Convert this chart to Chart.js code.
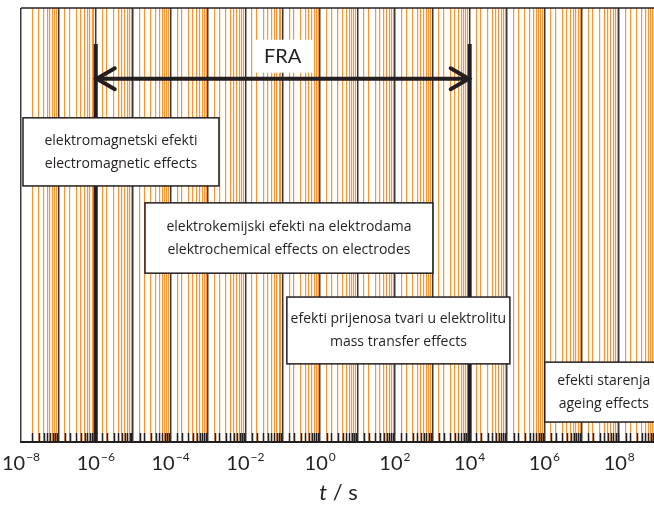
<!DOCTYPE html>
<html>
<head>
<meta charset="utf-8">
<script src="https://cdn.jsdelivr.net/npm/chart.js@4.4.1/dist/chart.umd.min.js"></script>
<style>
  html, body { margin: 0; padding: 0; background: #fff; }
  canvas { display: block; }
</style>
</head>
<body>
<canvas id="timeChart" width="654" height="508"></canvas>
<script>
// -- Data --
const X_MIN = 1e-8;
const X_MAX = Math.pow(10, 8.93);            // axis runs past 10^8, cut at the right edge
const tickExponents = [-8, -6, -4, -2, 0, 2, 4, 6, 8];
const fraRange = [1e-6, 1e4];                // FRA measurement window (s)
const effectNamesHr = ['elektromagnetski efekti', 'elektrokemijski efekti na elektrodama',
                       'efekti prijenosa tvari u elektrolitu', 'efekti starenja'];
const effectNamesEn = ['electromagnetic effects', 'elektrochemical effects on electrodes',
                       'mass transfer effects', 'ageing effects'];
const effectStart = [1.13e-8, 2.07e-5, 1.29e-1, 1.02e6];   // s
const effectEnd   = [1.97e-3, 1.04e3, 1.19e5, 1e10];       // s

// -- Layout (vertical levels on a 0..1 axis) --
const rowTop    = [0.747, 0.551, 0.334, 0.184];
const rowBottom = [0.590, 0.389, 0.180, 0.046];
const ARROW_Y = 0.837;
const FRA_TOP = 0.917;

const INK = '#231f20';
const ORANGE = 'rgba(246,139,31,0.9)';
const FONT = 'Lato, "Open Sans", sans-serif';
const BOX_FONT = '"Open Sans", sans-serif';

const isDecade = v => Math.abs(Math.log10(v) - Math.round(Math.log10(v))) < 1e-6;

function line(ctx, x1, y1, x2, y2) {
    ctx.beginPath();
    ctx.moveTo(x1, y1);
    ctx.lineTo(x2, y2);
    ctx.stroke();
}

// -- Overlay: arrow, boxes, labels --
const overlay = {
    id: 'overlay',
    afterDraw(chart) {
        const { ctx, chartArea: a, scales: { x, y } } = chart;
        ctx.save();

        // small inner ticks on the bottom axis
        ctx.strokeStyle = INK;
        ctx.lineWidth = 1.5;
        x.ticks.forEach(t => {
            if (isDecade(t.value) || t.value >= X_MAX * 0.999) return;
            const px = Math.round(x.getPixelForValue(t.value)) + 0.5;
            line(ctx, px, a.bottom - 9, px, a.bottom);
        });

        // top frame line
        ctx.lineWidth = 1.5;
        line(ctx, a.left, a.top, a.right, a.top);

        // FRA bounds
        const x1 = x.getPixelForValue(fraRange[0]);
        const x2 = x.getPixelForValue(fraRange[1]);
        const yTop = y.getPixelForValue(FRA_TOP);
        ctx.lineWidth = 4;
        line(ctx, x1, yTop, x1, a.bottom);
        line(ctx, x2, yTop, x2, a.bottom);

        // double arrow
        const ay = y.getPixelForValue(ARROW_Y);
        line(ctx, x1, ay, x2, ay);
        ctx.lineCap = 'round';
        ctx.beginPath();
        ctx.moveTo(x1 + 19, ay - 10.5); ctx.lineTo(x1 + 1, ay); ctx.lineTo(x1 + 19, ay + 10.5);
        ctx.moveTo(x2 - 19, ay - 10.5); ctx.lineTo(x2 - 1, ay); ctx.lineTo(x2 - 19, ay + 10.5);
        ctx.stroke();
        ctx.lineCap = 'butt';

        // FRA label
        const fx = x.getPixelForValue(Math.sqrt(fraRange[0] * fraRange[1]));
        ctx.fillStyle = '#fff';
        ctx.fillRect(fx - 28, ay - 39, 59, 33);
        ctx.fillStyle = INK;
        ctx.font = '20px ' + FONT;
        ctx.textAlign = 'center';
        ctx.textBaseline = 'middle';
        ctx.fillText('FRA', fx, ay - 22);

        // effect boxes
        ctx.font = '14px ' + BOX_FONT;
        effectNamesHr.forEach((name, i) => {
            const l = x.getPixelForValue(effectStart[i]);
            const r = x.getPixelForValue(effectEnd[i]);
            const t = y.getPixelForValue(rowTop[i]);
            const b = y.getPixelForValue(rowBottom[i]);
            ctx.fillStyle = '#fff';
            ctx.fillRect(l, t, r - l, b - t);
            ctx.strokeStyle = INK;
            ctx.lineWidth = 1.5;
            ctx.strokeRect(l, t, r - l, b - t);
            const cx = i === 3 ? l + 59 : (l + r) / 2;
            const cy = (t + b) / 2;
            ctx.fillStyle = INK;
            ctx.fillText(name, cx, cy - 11);
            ctx.fillText(effectNamesEn[i], cx, cy + 12);
        });

        // decade tick labels 10^n
        ctx.textAlign = 'left';
        ctx.textBaseline = 'alphabetic';
        tickExponents.forEach(e => {
            const px = x.getPixelForValue(Math.pow(10, e));
            const sup = e < 0 ? '\u2212' + (-e) : String(e);
            ctx.font = '20px ' + FONT;
            const w1 = ctx.measureText('10').width;
            ctx.font = '12px ' + FONT;
            const w2 = ctx.measureText(sup).width;
            const left = px - (w1 + w2 + 1) / 2;
            ctx.font = '20px ' + FONT;
            ctx.fillText('10', left, a.bottom + 28);
            ctx.font = '12px ' + FONT;
            ctx.fillText(sup, left + w1 + 1, a.bottom + 19);
        });

        // axis title  t / s
        ctx.font = 'italic 22px ' + FONT;
        const wt = ctx.measureText('t').width;
        ctx.font = '22px ' + FONT;
        const ws = ctx.measureText(' / s').width;
        const tx = (a.left + a.right) / 2 + 1 - (wt + ws) / 2;
        ctx.font = 'italic 22px ' + FONT;
        ctx.fillText('t', tx, a.bottom + 58);
        ctx.font = '22px ' + FONT;
        ctx.fillText(' / s', tx + wt, a.bottom + 58);

        ctx.restore();
    }
};

new Chart(document.getElementById('timeChart'), {
    type: 'scatter',
    data: { datasets: [] },
    options: {
        responsive: false,
        animation: false,
        layout: { padding: { left: 21, top: 8, right: 0, bottom: 0 } },
        plugins: { legend: { display: false }, tooltip: { enabled: false } },
        scales: {
            x: {
                type: 'logarithmic',
                min: X_MIN,
                max: X_MAX,
                ticks: { display: false },
                grid: {
                    drawTicks: false,
                    tickLength: 0,
                    color: c => {
                        const v = c.tick && c.tick.value;
                        if (!v || v >= X_MAX * 0.999) return 'rgba(0,0,0,0)';
                        return isDecade(v) ? '#3a3a3a' : ORANGE;
                    },
                    lineWidth: c => (c.tick && isDecade(c.tick.value) ? 1.5 : 1.2)
                },
                border: { display: true, color: INK, width: 2 },
                afterFit: s => { s.height = 66; }
            },
            y: { display: false, min: 0, max: 1 }
        }
    },
    plugins: [overlay]
});
</script>
</body>
</html>
